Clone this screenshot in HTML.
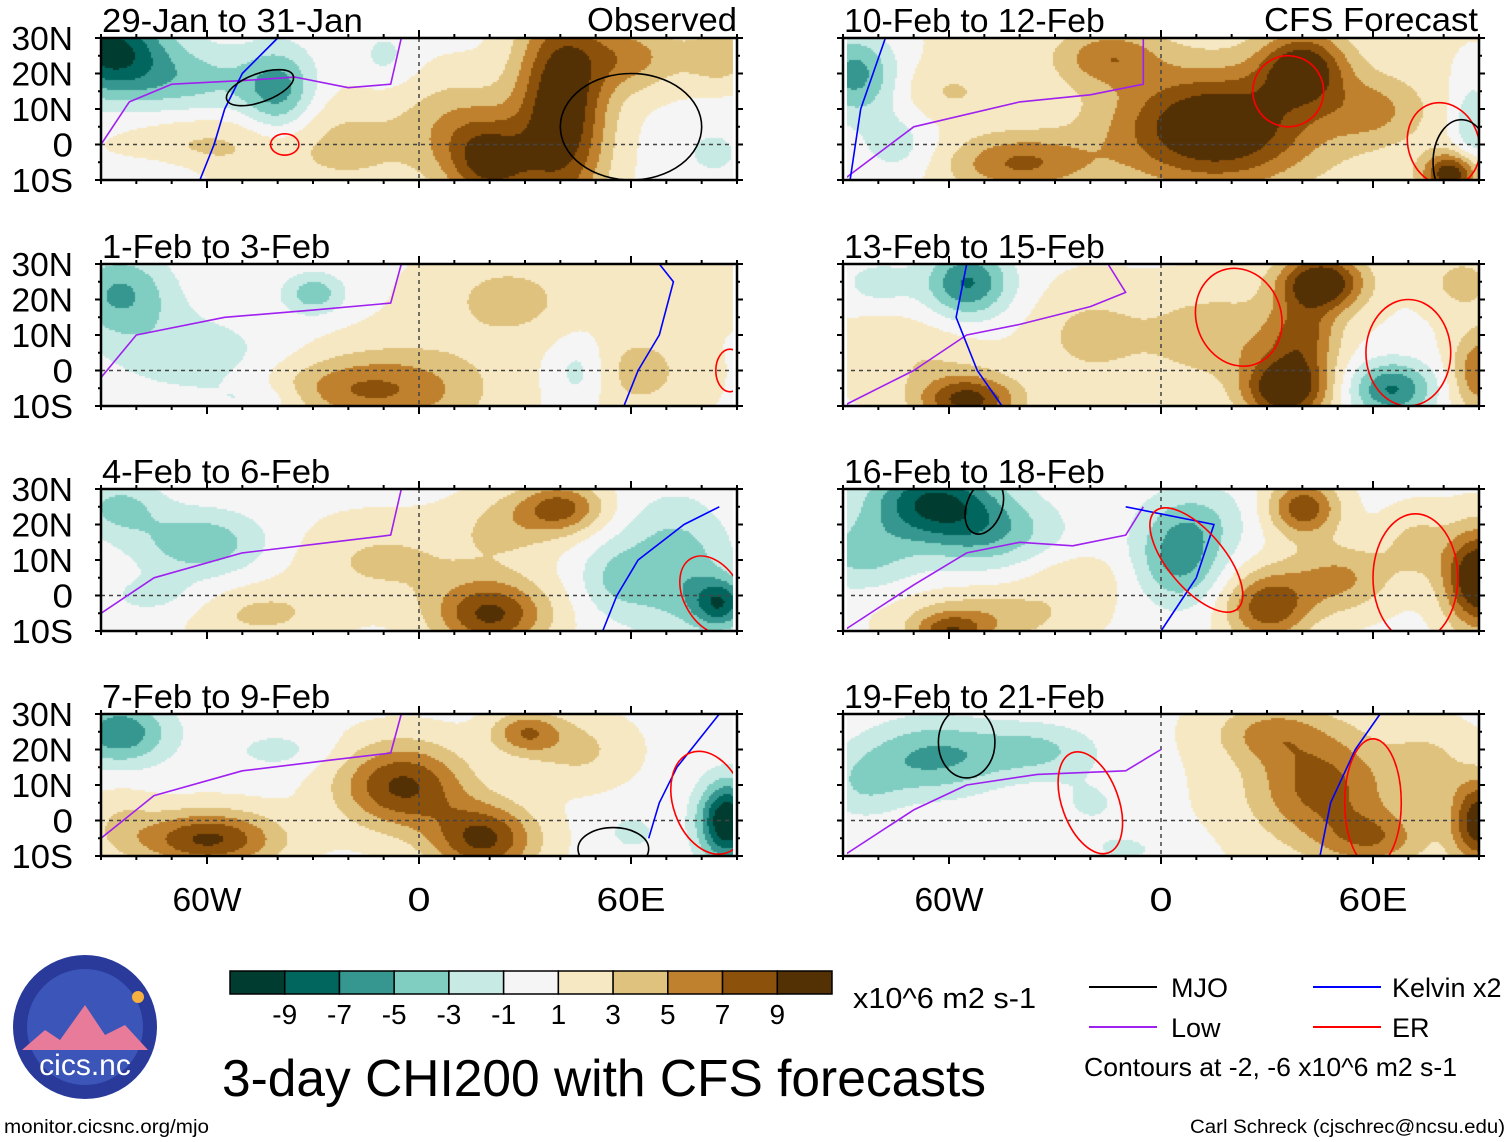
<!DOCTYPE html>
<html><head><meta charset="utf-8">
<style>
body{margin:0;background:#fff;width:1510px;height:1142px;position:relative;overflow:hidden;font-family:"Liberation Sans",sans-serif;color:#000}
canvas{position:absolute}
svg{position:absolute;left:0;top:0}
</style></head><body>
<svg id="ov" width="1510" height="1142"></svg>
<script>
const bins=[-9,-7,-5,-3,-1,1,3,5,7,9];
const colors=['#003c30','#01665e','#35978f','#80cdc1','#c7eae5','#f5f5f5','#f6e8c3','#dfc27d','#bf812d','#8c510a','#543005'];
const cbLabels=['-9','-7','-5','-3','-1','1','3','5','7','9'];
const titles=['29-Jan to 31-Jan','1-Feb to 3-Feb','4-Feb to 6-Feb','7-Feb to 9-Feb','10-Feb to 12-Feb','13-Feb to 15-Feb','16-Feb to 18-Feb','19-Feb to 21-Feb'];
const latLabels=['30N','20N','10N','0','10S'];
const latTicks=[30,20,10,0,-10];
const lonLabels=['60W','0','60E'];
const lonTicks=[-60,0,60];
const offsets=[0.4,0.8,0.4,0.4,1.2,0.8,0.4,0.8];
// blobs per panel: [lon,lat,amp,sx,sy]
const blobs0=[[-88,27,-10,16,12],[-65,18,-4,22,10],[-40,15,-6,10,12],[-75,-8,-2,15,5],[-60,0,3,25,10],[-20,0,3,20,15],[40,10,11,13,30],[20,-5,8,12,12],[10,5,4,15,15],[60,25,5,15,10],[85,25,4,10,8],[83,-2,-3,6,5],[-10,25,-2,8,8]];
const blobs1=[[-85,22,-6,15,12],[-65,5,-3,25,12],[-30,22,-5,9,6],[-5,-5,5,25,12],[-25,-5,3,20,8],[25,20,3,20,12],[45,0,-3,8,10],[62,0,3,15,12],[75,22,2,15,8],[-45,-8,-2,15,5]];
const blobs2=[[-62,15,-5,18,9],[-85,25,-4,12,8],[-75,0,-2,15,6],[20,-5,9,16,10],[-10,10,3,25,12],[-45,-5,3,20,8],[40,25,7,12,7],[72,8,-5,15,18],[85,-2,-8,8,7],[55,5,-3,10,10],[25,20,3,15,10]];
const blobs3=[[-85,25,-7,14,9],[-60,-5,9,20,8],[-5,10,9,18,12],[18,-5,9,15,10],[87,0,-12,8,11],[45,20,3,15,10],[-40,20,-2,15,6],[30,25,6,10,6],[-85,0,2,10,10],[60,-3,-2,8,6]];
const blobs4=[[-87,20,-7,12,12],[-75,0,-3,12,10],[15,5,11,28,16],[40,22,9,12,10],[-40,-5,6,20,8],[-15,25,5,15,8],[88,5,-4,6,14],[82,-8,10,8,6],[60,10,4,15,10],[-60,15,2,15,8]];
const blobs5=[[-55,25,-8,12,10],[-80,25,-3,10,6],[-70,5,2,20,10],[-55,-8,9,14,7],[-20,10,3,15,12],[15,10,4,20,12],[35,-5,11,12,9],[45,25,11,12,8],[40,10,6,10,10],[65,-5,-8,12,8],[90,0,6,8,12],[85,25,3,10,8]];
const blobs6=[[-65,27,-9,18,10],[-50,18,-5,20,10],[-85,12,-4,15,10],[5,10,-6,12,12],[10,22,-3,15,10],[-50,-6,4,25,8],[-60,-10,6,10,5],[40,25,8,10,8],[30,-3,8,12,10],[50,5,5,15,10],[90,5,12,10,14],[72,15,3,10,10],[-25,5,2,15,8]];
const blobs7=[[-65,18,-6,20,11],[-35,20,-4,18,8],[-85,10,-3,12,10],[45,10,7,20,16],[30,25,4,15,8],[90,0,10,8,12],[-10,-8,-2,15,6],[-20,5,-2,12,8],[60,-5,5,15,8],[75,15,3,10,10]];
const allBlobs=[blobs0,blobs1,blobs2,blobs3,blobs4,blobs5,blobs6,blobs7];
const low0=[[-90,0],[-82,12],[-70,17],[-50,18],[-35,19],[-20,16],[-8,17],[-5,30]];
const low1=[[-90,-2],[-80,10],[-55,15],[-30,17],[-8,19],[-5,30]];
const low2=[[-90,-5],[-75,5],[-50,12],[-25,15],[-8,17],[-5,30]];
const low3=[[-90,-5],[-75,7],[-50,14],[-25,17],[-8,19],[-5,30]];
const low4=[[-90,-10],[-70,5],[-40,12],[-20,14],[-5,17],[-5,30]];
const low5=[[-90,-10],[-70,0],[-55,10],[-40,13],[-20,18],[-10,22],[-15,30]];
const low6=[[-90,-10],[-70,3],[-55,12],[-40,15],[-25,14],[-10,17],[-5,25]];
const low7=[[-90,-10],[-70,3],[-55,10],[-35,13],[-10,14],[0,20]];
const lows=[low0,low1,low2,low3,low4,low5,low6,low7];
const kel0=[[-62,-10],[-58,0],[-55,10],[-50,20],[-40,30]];
const kel1=[[58,-10],[62,0],[68,10],[72,25],[68,30]];
const kel2=[[52,-10],[56,0],[62,10],[75,20],[85,25]];
const kel3=[[65,-5],[68,5],[73,15],[85,30]];
const kel4=[[-88,-10],[-85,10],[-78,30]];
const kel5=[[-45,-10],[-52,0],[-58,15],[-55,30]];
const kel6=[[0,-10],[10,5],[15,20],[-10,25]];
const kel7=[[45,-10],[48,5],[55,20],[62,30]];
const kels=[kel0,kel1,kel2,kel3,kel4,kel5,kel6,kel7];
const er=[[0,-38,0,4,3,0],[1,88,0,4,6,0],[2,83,0,8,12,-30],[3,82,5,10,15,-20],[4,36,15,10,10,-30],[4,80,0,10,12,-20],[5,22,15,12,14,-20],[5,70,5,12,15,0],[6,10,10,8,18,-40],[6,72,5,12,18,0],[7,-20,5,8,15,-20],[7,60,5,8,18,0]];
const mjo=[[0,-45,16,10,4,-20],[0,60,5,20,15,0],[3,55,-8,10,6,0],[4,85,-5,8,12,0],[6,-50,25,5,8,20],[7,-55,22,8,10,0]];
const panelX=[101,101,101,101,843,843,843,843];
const panelY=[38,264,489,714,38,264,489,714];
const PW=636,PH=142;
const svg=document.getElementById('ov'),NS='http://www.w3.org/2000/svg';
function xs(p,lon){return panelX[p]+(lon+90)/180*PW;}
function ys(p,lat){return panelY[p]+(30-lat)/40*PH;}
function field(b,lon,lat){let v=0;for(const [x,y,a,sx,sy] of b){const dx=(lon-x)/sx,dy=(lat-y)/sy;v+=a*Math.exp(-(dx*dx+dy*dy));}return v;}
function colorFor(v){let i=0;while(i<bins.length&&v>bins[i])i++;return colors[i];}
function mk(tag,attrs){const e=document.createElementNS(NS,tag);for(const k in attrs)e.setAttribute(k,attrs[k]);svg.appendChild(e);return e;}
function txt(s,x,y,size,anchor,len){const a={x:x,y:y,'font-size':size,'text-anchor':anchor||'start','font-family':'Liberation Sans, sans-serif'};if(len){a.textLength=len;a.lengthAdjust='spacingAndGlyphs';}const e=mk('text',a);e.textContent=s;return e;}
function path(p,pts){return 'M'+pts.map(q=>xs(p,q[0]).toFixed(1)+','+ys(p,q[1]).toFixed(1)).join(' L');}
for(let p=0;p<8;p++){
  const c=document.createElement('canvas');c.width=PW;c.height=PH;c.style.left=panelX[p]+'px';c.style.top=panelY[p]+'px';
  
  
  document.body.insertBefore(c,svg);
  const g=c.getContext('2d');
  for(let y=0;y<PH;y+=2)for(let x=0;x<PW;x+=2){const lon=-90+x/PW*180,lat=30-y/PH*40;g.fillStyle=colorFor(offsets[p]+field(allBlobs[p],lon,lat));g.fillRect(x,y,2,2);}
  const eq=mk('line',{x1:panelX[p],x2:panelX[p]+PW,y1:ys(p,0),y2:ys(p,0),stroke:'#444','stroke-dasharray':'4,4','stroke-width':1.5});
  
  mk('line',{x1:xs(p,0),x2:xs(p,0),y1:panelY[p],y2:panelY[p]+PH,stroke:'#444','stroke-dasharray':'4,4','stroke-width':1.5});
  const lp=mk('path',{d:path(p,lows[p]),fill:'none',stroke:'#a020f0','stroke-width':1.6,'stroke-linejoin':'round'});
  
  const kp=mk('path',{d:path(p,kels[p]),fill:'none',stroke:'#0000ff','stroke-width':1.6,'stroke-linejoin':'round'});
  
}
function ell(list,color,name){list.forEach(a=>{const p=a[0];const cx=xs(p,a[1]),cy=ys(p,a[2]);const e=mk('ellipse',{cx:cx,cy:cy,rx:a[3]*PW/180,ry:a[4]*PH/40,transform:'rotate('+a[5]+' '+cx+' '+cy+')',fill:'none',stroke:color,'stroke-width':1.6});
  
  });}
ell(er,'#ff0000','er-contour');ell(mjo,'#000000','mjo-contour');
for(let p=0;p<8;p++){
  mk('rect',{x:panelX[p]-120,y:panelY[p]-60,width:PW+240,height:60,fill:'#fff'});
  mk('rect',{x:panelX[p]-120,y:panelY[p]+PH,width:PW+240,height:60,fill:'#fff'});
  mk('rect',{x:panelX[p]-110,y:panelY[p],width:110,height:PH,fill:'#fff'});
  mk('rect',{x:panelX[p]+PW,y:panelY[p],width:110,height:PH,fill:'#fff'});
}
for(let p=0;p<8;p++){
  const fr=mk('rect',{x:panelX[p],y:panelY[p],width:PW,height:PH,fill:'none',stroke:'#000','stroke-width':2.5});
  
  for(let lon=-90;lon<=90;lon+=10){const L=lonTicks.includes(lon)?8:4;
    mk('line',{x1:xs(p,lon),x2:xs(p,lon),y1:panelY[p]+PH,y2:panelY[p]+PH+L,stroke:'#000','stroke-width':2});
    mk('line',{x1:xs(p,lon),x2:xs(p,lon),y1:panelY[p],y2:panelY[p]-L,stroke:'#000','stroke-width':2});}
  for(let lat=-10;lat<=30;lat+=5){const L=latTicks.includes(lat)?6:3;
    mk('line',{x1:panelX[p],x2:panelX[p]-L,y1:ys(p,lat),y2:ys(p,lat),stroke:'#000','stroke-width':2});
    mk('line',{x1:panelX[p]+PW,x2:panelX[p]+PW+L,y1:ys(p,lat),y2:ys(p,lat),stroke:'#000','stroke-width':2});}
  const tt=txt(titles[p],panelX[p]+1,panelY[p]-6,33,'start',titles[p].length*16.3);
  
  if(p<4){latTicks.forEach((l,i)=>{const w=latLabels[i].length*20.5;const e=txt(latLabels[i],73,ys(p,l)+12,33,'end',w);});}
}
let e=txt('Observed',737,31,33,'end',150);
e=txt('CFS Forecast',1478,31,33,'end',214);
[3,7].forEach(p=>lonTicks.forEach((l,i)=>{const t=txt(lonLabels[i],xs(p,l),911,33,'middle',lonLabels[i].length*23);}));
const cbX=230,cbY=971,cbW=602/11;
colors.forEach((c,i)=>{const r=mk('rect',{x:cbX+i*cbW,y:cbY,width:cbW,height:23,fill:c,stroke:'#000','stroke-width':1.5});});
cbLabels.forEach((s,i)=>{const t=txt(s,cbX+(i+1)*cbW,1024,28,'middle');});
e=txt('x10^6 m2 s-1',853,1008,29,'start',183);
e=txt('3-day CHI200 with CFS forecasts',222,1096,52,'start',764);
[['#000',1089,987,'MJO',1171,'legend-mjo'],['#a020f0',1089,1027,'Low',1171,'legend-low'],['#0000ff',1313,987,'Kelvin x2',1392,'legend-kelvin'],['#ff0000',1313,1027,'ER',1392,'legend-er']].forEach(a=>{const l=mk('line',{x1:a[1],x2:a[1]+68,y1:a[2],y2:a[2],stroke:a[0],'stroke-width':2});
  const t=txt(a[3],a[4],a[2]+10,27);});
e=txt('Contours at -2, -6 x10^6 m2 s-1',1084,1076,26,'start',373);
e=txt('monitor.cicsnc.org/mjo',4,1133,19,'start',205);
e=txt('Carl Schreck (cjschrec@ncsu.edu)',1190,1133,19,'start',315);
const lg=mk('circle',{cx:85,cy:1027,r:72,fill:'#2a3a9a'});
mk('circle',{cx:85,cy:1027,r:58,fill:'#3b55b8'});
mk('path',{d:'M22 1050 L45 1030 L60 1040 L85 1005 L105 1035 L125 1025 L148 1050 Z',fill:'#e87a9a'});
e=txt('cics.nc',85,1075,30,'middle');e.setAttribute('fill','#ffffff');
mk('circle',{cx:138,cy:997,r:6,fill:'#f5b040'});
</script>
</body></html>
